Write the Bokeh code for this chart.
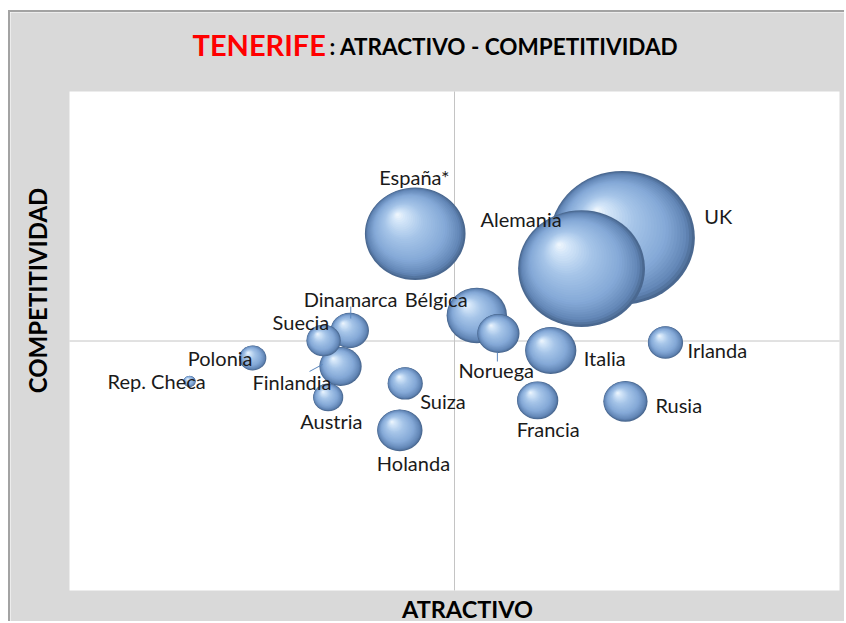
import math
from bokeh.plotting import figure
from bokeh.models import Range1d
from bokeh.embed import file_html
from bokeh.resources import INLINE
from bokeh.core.properties import value

# ---------------- data ----------------
paises = ["UK", "Alemania", "España*", "Bélgica", "Italia", "Holanda", "Rusia",
          "Noruega", "Finlandia", "Francia", "Dinamarca", "Suiza", "Irlanda",
          "Suecia", "Austria", "Polonia", "Rep. Checa"]
atractivo = [71.8, 66.5, 44.9, 52.9, 62.5, 42.9, 72.2,
             55.7, 35.2, 60.8, 36.4, 43.6, 77.4,
             33.0, 33.6, 23.8, 15.6]
competitividad = [70.7, 64.5, 71.5, 55.1, 48.1, 32.1, 37.9,
                  51.5, 44.9, 38.1, 52.1, 41.5, 49.7,
                  50.1, 38.7, 46.6, 41.9]
tamano = [100, 76.6, 48.2, 17.4, 12.5, 9.8, 9.3,
          8.5, 8.5, 8.1, 7.0, 5.9, 5.9,
          5.6, 4.3, 3.5, 0.7]

titulo_1 = "TENERIFE"
titulo_2 = ":  ATRACTIVO - COMPETITIVIDAD"
eje_x = "ATRACTIVO"
eje_y = "COMPETITIVIDAD"
eje_min, eje_max, cruce = 0, 100, 50

# ---------------- layout ----------------
W, H = 836, 611                  # canvas
FL, FR, FT, FB = 59, 7, 79, 33   # white plot area insets
PW, PH = W - FL - FR, H - FT - FB
SX, SY = PW / 100.0, PH / 100.0  # px per data unit
K = 7.25                         # px radius per sqrt(size)
ASPECT = 0.92


def dx(px):  # canvas px (from left) -> data x
    return eje_min + (px - FL) / SX


def dy(py):  # canvas px (from top) -> data y
    return eje_min + (H - FB - py) / SY


# label placement (screen px offsets from bubble centre, y down)
lab_off = {
    "UK": (82, -22), "Alemania": (-101, -50), "España*": (-36, -57),
    "Bélgica": (-72, -17), "Italia": (33, 8), "Holanda": (-23, 33),
    "Rusia": (30, 4), "Noruega": (-40, 36), "Finlandia": (-88, 16),
    "Francia": (-21, 29), "Dinamarca": (-46, -32), "Suiza": (15, 18),
    "Irlanda": (22, 8), "Suecia": (-51, -19), "Austria": (-28, 24),
    "Polonia": (-65, 0), "Rep. Checa": (-82, 0),
}
leaders = {
    "Dinamarca": ((1, -24), (1, -12)),
    "Finlandia": ((-31, 5), (-18, -2)),
    "Noruega": ((-1, 19), (-1, 28)),
}

p = figure(width=W, height=H, x_range=Range1d(dx(0), dx(W)), y_range=Range1d(dy(H), dy(0)),
           output_backend="svg", toolbar_location=None,
           min_border_left=0, min_border_right=0, min_border_top=0, min_border_bottom=0,
           background_fill_color="#d9d9d9", border_fill_color="#d9d9d9",
           outline_line_color=None)
p.axis.visible = False
p.grid.visible = False
p.margin = (10, 0, 0, 8)
p.styles = {"border-top": "2px solid #a3a3a3", "border-left": "2px solid #a3a3a3"}

# white plot area + crossing axes
p.quad(left=[eje_min], right=[eje_max], bottom=[eje_min], top=[eje_max],
       fill_color="white", line_color=None)
p.line([cruce, cruce], [eje_min, eje_max], line_color="#c4c4c4", line_width=1)
p.line([eje_min, eje_max], [cruce, cruce], line_color="#c4c4c4", line_width=1)


def hex2rgb(h):
    h = h.lstrip("#")
    return tuple(int(h[i:i + 2], 16) for i in (0, 2, 4))


stops = [(0.0, hex2rgb("#4a6890")), (0.07, hex2rgb("#6286b6")),
         (0.28, hex2rgb("#85a9d7")), (0.60, hex2rgb("#a5c4e8")),
         (0.86, hex2rgb("#d2e5f8")), (1.0, hex2rgb("#f4f9fe"))]


def col(t):
    for (t0, c0), (t1, c1) in zip(stops[:-1], stops[1:]):
        if t <= t1:
            f = (t - t0) / (t1 - t0) if t1 > t0 else 0
            return "#%02x%02x%02x" % tuple(int(round(a + (b - a) * f)) for a, b in zip(c0, c1))
    return "#%02x%02x%02x" % stops[-1][1]


N = 34
for name, x, y, s in zip(paises, atractivo, competitividad, tamano):
    r = K * math.sqrt(s)
    xs, ys, ws, hs, cs = [], [], [], [], []
    for k in range(N):
        sc = 1 - k / N
        t = 1 - sc
        xs.append(x - 0.36 * r * t / SX)
        ys.append(y + 0.42 * r * ASPECT * t / SY)
        ws.append(2 * r * sc)
        hs.append(2 * r * ASPECT * sc)
        cs.append(col(t))
    p.ellipse(x=xs, y=ys, width=ws, height=hs, width_units="screen",
              height_units="screen", fill_color=cs, line_color=None)

# leader lines
for name, (a, b) in leaders.items():
    i = paises.index(name)
    x, y = atractivo[i], competitividad[i]
    p.line([x + a[0] / SX, x + b[0] / SX], [y - a[1] / SY, y - b[1] / SY],
           line_color="#5a86bd", line_width=1)

# country labels
lx, ly = [], []
for name, x, y in zip(paises, atractivo, competitividad):
    ox, oy = lab_off[name]
    lx.append(x + ox / SX)
    ly.append(y - oy / SY)
p.text(x=lx, y=ly, text=paises, text_font=value("Lato"), text_font_size="20px",
       text_color="#1a1a1a", text_align="left", text_baseline="middle")

# title & axis titles (canvas px positions)
p.text(x=[dx(182)], y=[dy(32)], text=[titulo_1], text_font=value("Lato"),
       text_font_style="bold", text_font_size="29px", text_color="#ff0000",
       text_baseline="middle")
p.text(x=[dx(319)], y=[dy(34)], text=[titulo_2], text_font=value("Lato"),
       text_font_style="bold", text_font_size="22.5px", text_color="#000000",
       text_baseline="middle")
p.text(x=[dx(457)], y=[dy(596)], text=[eje_x], text_font=value("Lato"),
       text_font_style="bold", text_font_size="23.5px", text_color="#000000",
       text_align="center", text_baseline="middle")
p.text(x=[dx(27)], y=[dy(278)], text=[eje_y], text_font=value("Lato"),
       text_font_style="bold", text_font_size="24px", text_color="#000000",
       angle=math.pi / 2, text_align="center", text_baseline="middle")

open("out.html", "w").write(file_html(p, INLINE))
